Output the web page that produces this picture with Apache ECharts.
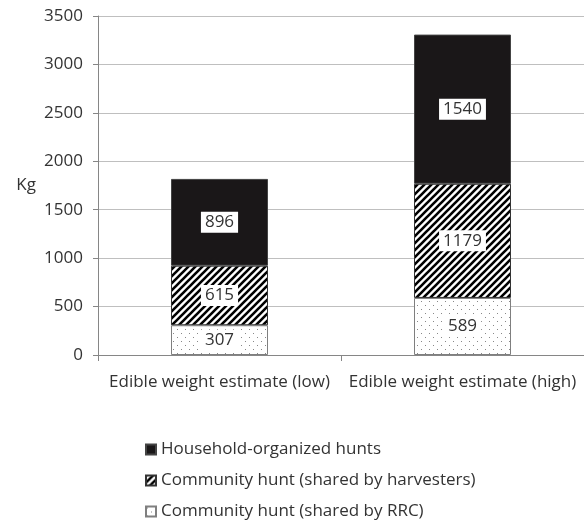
<!DOCTYPE html>
<html lang="en">

<head>
    <meta charset="UTF-8">
    <title>Edible weight</title>
    <script src="https://cdn.jsdelivr.net/npm/echarts@6.0.0/dist/echarts.min.js"></script>
    <style>
        body { margin: 0; background: #fff; }
    </style>
</head>

<body>
    <div id="main" style="width: 584px; height: 520px;"></div>
    <script>
        var categories = ['Edible weight estimate (low)', 'Edible weight estimate (high)'];
        var seriesNames = ['Household-organized hunts', 'Community hunt (shared by harvesters)', 'Community hunt (shared by RRC)'];
        var rrc = [307, 589];
        var harvesters = [615, 1179];
        var household = [896, 1540];
        var yTicks = [0, 500, 1000, 1500, 2000, 2500, 3000, 3500];

        // hatch tiles for the bars
        function stripeTile() {
            var c = document.createElement('canvas');
            c.width = 7; c.height = 7;
            var ctx = c.getContext('2d');
            ctx.fillStyle = '#fff';
            ctx.fillRect(0, 0, 7, 7);
            ctx.strokeStyle = '#000';
            ctx.lineWidth = 2.6;
            ctx.beginPath();
            ctx.moveTo(-1, 8); ctx.lineTo(8, -1);
            ctx.moveTo(-4, 4); ctx.lineTo(4, -4);
            ctx.moveTo(3, 11); ctx.lineTo(11, 3);
            ctx.stroke();
            return c;
        }
        function dotTile() {
            var c = document.createElement('canvas');
            c.width = 8; c.height = 8;
            var ctx = c.getContext('2d');
            ctx.fillStyle = '#fff';
            ctx.fillRect(0, 0, 8, 8);
            ctx.fillStyle = '#888';
            ctx.fillRect(1, 1, 1, 1);
            ctx.fillRect(5, 5, 1, 1);
            return c;
        }

        var font = '"Open Sans", sans-serif';
        var chart = echarts.init(document.getElementById('main'));

        var labelStyle = {
            show: true,
            position: 'inside',
            fontFamily: font,
            fontSize: 17,
            color: '#333',
            backgroundColor: '#fff',
            padding: [3, 4, 1, 4]
        };

        var option = {
            animation: false,
            textStyle: { fontFamily: font },
            grid: { left: 98, right: 0, top: 16, bottom: 165 },
            legend: {
                orient: 'vertical',
                left: 145,
                top: 441,
                height: 110,
                padding: 0,
                itemWidth: 10,
                itemHeight: 10,
                itemGap: 14,
                data: seriesNames.slice(),
                textStyle: { fontFamily: font, fontSize: 17, color: '#333' },
                icon: 'rect'
            },
            xAxis: {
                type: 'category',
                data: categories,
                axisLine: { lineStyle: { color: '#868686' } },
                axisTick: { show: true, length: 6, lineStyle: { color: '#868686' } },
                axisLabel: { interval: 0, fontFamily: font, fontSize: 17, color: '#333', margin: 19 }
            },
            yAxis: {
                type: 'value',
                min: yTicks[0],
                max: yTicks[yTicks.length - 1],
                interval: 500,
                name: 'Kg',
                nameLocation: 'middle',
                nameRotate: 0,
                nameGap: 62,
                nameTextStyle: { fontFamily: font, fontSize: 17, color: '#333', padding: [0, 0, 18, 0] },
                axisLine: { show: true, lineStyle: { color: '#868686' } },
                axisTick: { show: true, length: 5, lineStyle: { color: '#868686' } },
                axisLabel: {
                    fontFamily: font, fontSize: 17, color: '#333', margin: 15,
                    formatter: function (v) { return String(v); }
                },
                splitLine: { lineStyle: { color: '#bfbfbf' } }
            },
            series: [
                {
                    name: seriesNames[2],
                    type: 'bar',
                    stack: 'kg',
                    barWidth: 97,
                    data: rrc,
                    itemStyle: { color: { image: dotTile(), repeat: 'repeat' }, borderColor: '#7f7f7f', borderWidth: 1 },
                    label: labelStyle
                },
                {
                    name: seriesNames[1],
                    type: 'bar',
                    stack: 'kg',
                    data: harvesters,
                    itemStyle: { color: { image: stripeTile(), repeat: 'repeat' }, borderColor: '#333', borderWidth: 1 },
                    label: labelStyle
                },
                {
                    name: seriesNames[0],
                    type: 'bar',
                    stack: 'kg',
                    data: household,
                    itemStyle: { color: '#1a1718', borderColor: '#444', borderWidth: 1 },
                    label: labelStyle
                }
            ]
        };

        chart.setOption(option);
    </script>
</body>

</html>
